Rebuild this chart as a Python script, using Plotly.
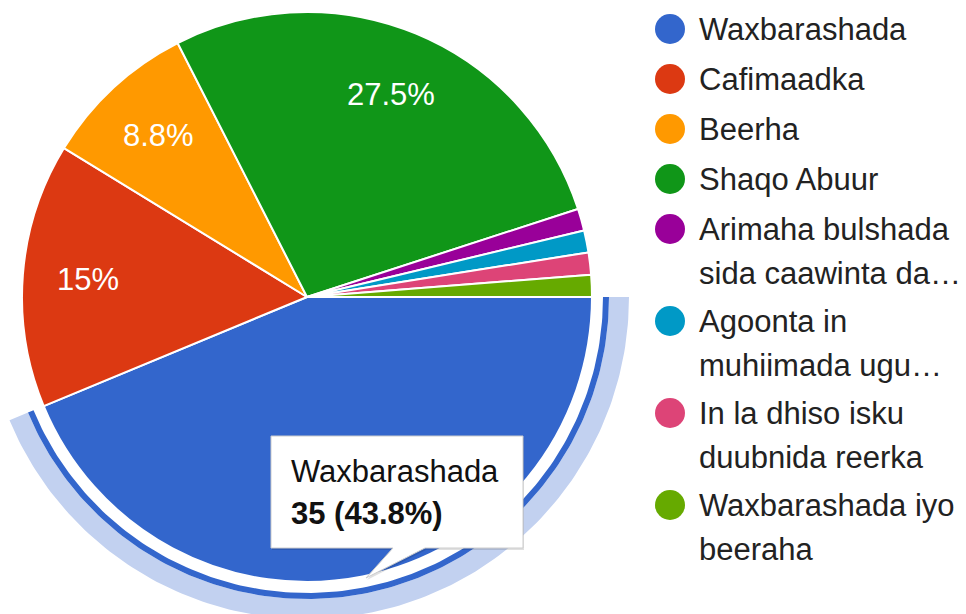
import math
import numpy as np
import plotly.graph_objects as go

# ---------------- data ----------------
labels = ["Waxbarashada", "Cafimaadka", "Beerha", "Shaqo Abuur",
          "Arimaha bulshada sida caawinta da…", "Agoonta in muhiimada ugu…",
          "In la dhiso isku duubnida reerka", "Waxbarashada iyo beeraha"]
legend_lines = [["Waxbarashada"], ["Cafimaadka"], ["Beerha"], ["Shaqo Abuur"],
                ["Arimaha bulshada", "sida caawinta da…"],
                ["Agoonta in", "muhiimada ugu…"],
                ["In la dhiso isku", "duubnida reerka"],
                ["Waxbarashada iyo", "beeraha"]]
values = [35, 12, 7, 22, 1, 1, 1, 1]
colors = ["#3366cc", "#dc3912", "#ff9900", "#109618",
          "#990099", "#0099c6", "#dd4477", "#66aa00"]
highlight = 0  # slice under the tooltip

# ---------------- layout constants ----------------
W, H = 966, 614
CX, CY, R = 307, 297, 285          # pie centre / radius in pixels
ROT = 90                           # first slice starts at 3 o'clock
FONT = "Liberation Sans, Arial, sans-serif"
FS = 31
total = sum(values)

def pct_text(v):
    p = v / total * 100
    s = f"{p:.1f}"
    if s.endswith(".0"):
        s = s[:-2]
    return s + "%"

# slice angles (clockwise from 12 o'clock, degrees)
starts, cum = [], 0
for v in values:
    starts.append(ROT + 360 * cum / total)
    cum += v
spans = [360 * v / total for v in values]

def pt(theta_deg, r):
    t = math.radians(theta_deg)
    return CX + r * math.sin(t), CY - r * math.cos(t)

fig = go.Figure()

# ---- halo around highlighted slice ----
def ring(t0, t1, r0, r1, color):
    th = np.linspace(t0, t1, 160)
    xo = [pt(t, r1)[0] for t in th]; yo = [pt(t, r1)[1] for t in th]
    xi = [pt(t, r0)[0] for t in th[::-1]]; yi = [pt(t, r0)[1] for t in th[::-1]]
    fig.add_trace(go.Scatter(x=xo + xi + [xo[0]], y=yo + yi + [yo[0]],
                             mode="lines", fill="toself", fillcolor=color,
                             line=dict(width=0, color=color), hoverinfo="skip",
                             xaxis="x", yaxis="y"))

t0 = starts[highlight]; t1 = t0 + spans[highlight]
ring(t0, t1, R + 17, R + 37, "#c2d1f0")
ring(t0, t1, R + 11, R + 17, colors[highlight])

# ---- pie ----
fig.add_trace(go.Pie(
    labels=labels, values=values, sort=False, direction="clockwise",
    rotation=ROT, marker=dict(colors=colors, line=dict(color="white", width=2)),
    textinfo="none", hoverinfo="label+value+percent",
    domain=dict(x=[(CX - R) / W, (CX + R) / W],
                y=[(H - CY - R) / H, (H - CY + R) / H]),
    showlegend=False))

annotations = []
# ---- percentage labels inside slices ----
for i, v in enumerate(values):
    if i == highlight or v / total < 0.05:
        continue
    x, y = pt(starts[i] + spans[i] / 2, 0.77 * R)
    annotations.append(dict(x=x, y=y, xref="x", yref="y", text=pct_text(v),
                            showarrow=False, font=dict(family=FONT, size=FS, color="white"),
                            xanchor="center", yanchor="middle"))

# ---- custom legend ----
leg_x_dot, leg_x_text = 670, 697
leg_y0, step_single, line_h, step_after_multi = 29, 50, 44, 48
ys = []
y = leg_y0
for lines in legend_lines:
    ys.append(y)
    if len(lines) == 1:
        y += step_single
    else:
        y += line_h * (len(lines) - 1) + step_after_multi
fig.add_trace(go.Scatter(x=[leg_x_dot] * len(values), y=ys, mode="markers",
                         marker=dict(size=30, color=colors, line=dict(width=0)),
                         hoverinfo="skip", xaxis="x", yaxis="y"))
for lines, yy in zip(legend_lines, ys):
    for k, line in enumerate(lines):
        annotations.append(dict(x=leg_x_text, y=yy + k * line_h, xref="x", yref="y",
                                text=line, showarrow=False, xanchor="left", yanchor="middle",
                                font=dict(family=FONT, size=FS, color="#222222")))

# ---- tooltip ----
bx0, bx1, by0, by1 = 271, 523, 436, 548
tail = [(425, 548), (366, 578), (393, 548)]
def box_path(dx=0, dy=0):
    p = f"M{bx0+dx},{by0+dy} L{bx1+dx},{by0+dy} L{bx1+dx},{by1+dy} "
    p += " ".join(f"L{x+dx},{y+dy}" for x, y in tail)
    p += f" L{bx0+dx},{by1+dy} Z"
    return p
shapes = [
    dict(type="path", path=box_path(1, 2), xref="x", yref="y",
         fillcolor="rgba(0,0,0,0.12)", line=dict(width=0), layer="above"),
    dict(type="path", path=box_path(), xref="x", yref="y",
         fillcolor="white", line=dict(color="#cccccc", width=1), layer="above"),
]
annotations.append(dict(x=289, y=471, xref="x", yref="y", text=labels[highlight],
                        showarrow=False, xanchor="left", yanchor="middle",
                        font=dict(family=FONT, size=FS, color="#111111")))
annotations.append(dict(x=289, y=513, xref="x", yref="y",
                        text=f"<b>{values[highlight]} ({values[highlight]/total*100:.1f}%)</b>",
                        showarrow=False, xanchor="left", yanchor="middle",
                        font=dict(family=FONT, size=FS, color="#111111")))

fig.update_layout(
    width=W, height=H, margin=dict(l=0, r=0, t=0, b=0),
    paper_bgcolor="white", plot_bgcolor="white", showlegend=False,
    xaxis=dict(range=[0, W], visible=False, fixedrange=True, domain=[0, 1]),
    yaxis=dict(range=[H, 0], visible=False, fixedrange=True, domain=[0, 1]),
    annotations=annotations, shapes=shapes,
)

fig.write_html("out.html", config={"displayModeBar": False},
               post_script="document.body.style.margin='0';document.body.style.overflow='hidden';")
